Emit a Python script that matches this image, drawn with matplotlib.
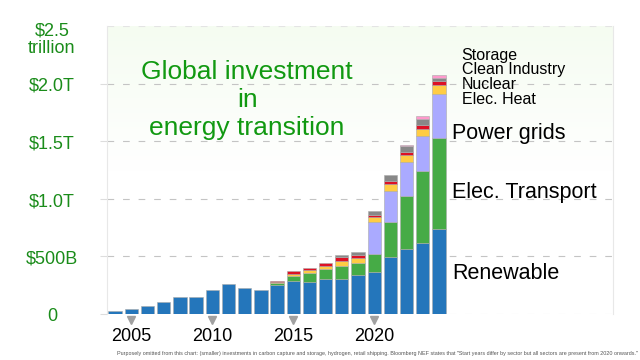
import matplotlib.pyplot as plt
import numpy as np
from matplotlib.colors import LinearSegmentedColormap

plt.rcParams['font.family'] = ['Liberation Sans', 'DejaVu Sans']

years = list(range(2004, 2025))

# billions of USD
renewable = [23, 46, 72, 101, 147, 145, 205, 260, 228, 205, 255, 286, 277, 308, 306, 338, 362, 499, 563, 615, 739]
transport = [0, 0, 0, 0, 0, 0, 0, 0, 0, 0, 10, 40, 75, 84, 110, 109, 156, 297, 464, 629, 788]
grids = [0, 0, 0, 0, 0, 0, 0, 0, 0, 0, 0, 0, 0, 0, 0, 0, 278, 276, 289, 303, 387]
heat = [0, 0, 0, 0, 0, 0, 0, 0, 0, 0, 12, 20, 26, 29, 43, 41, 42, 55, 61, 58, 78]
nuclear = [0, 0, 0, 0, 0, 0, 0, 0, 0, 0, 6, 25, 23, 23, 34, 26, 25, 27, 31, 32, 31]
industry = [0, 0, 0, 0, 0, 0, 0, 0, 0, 0, 0, 0, 0, 0, 18, 26, 35, 50, 47, 54, 29]
storage = [0, 0, 0, 0, 0, 0, 0, 0, 0, 0, 0, 0, 0, 0, 0, 0, 0, 0, 14, 32, 23]

series = [
    (renewable, '#2476bb'),
    (transport, '#46ab46'),
    (grids, '#aaaaff'),
    (heat, '#ffcc44'),
    (nuclear, '#dd1125'),
    (industry, '#888888'),
    (storage, '#ff99cc'),
]

yticks = [0, 500, 1000, 1500, 2000]
ytick_labels = ['0', '$500B', '$1.0T', '$1.5T', '$2.0T']
xticks = [2005, 2010, 2015, 2020]

fig = plt.figure(figsize=(6.4, 3.6), dpi=100)
ax = fig.add_axes([107/640, 46/360, 506/640, 288/360])
ax.set_xlim(2003.5, 2034.74)
ax.set_ylim(0, 2500)

# faint green-to-white background gradient
cmap = LinearSegmentedColormap.from_list('bg', ['#ffffff', '#ffffff', '#f5fcf1'])
grad = np.linspace(0, 1, 256).reshape(-1, 1)
ax.imshow(grad, cmap=cmap, aspect='auto', origin='lower',
          extent=(2003.5, 2034.74, 0, 2500), zorder=0)

for y in [0, 500, 1000, 1500, 2000, 2500]:
    ax.axhline(y, color='#c4c4c4' if 0 < y < 2500 else '#e4e4e4', lw=0.8,
               ls=(0, (6, 8)), zorder=1)

bottom = np.zeros(len(years))
for vals, col in series:
    v = np.array(vals, dtype=float)
    mask = v > 0
    ax.bar(np.array(years)[mask], v[mask], bottom=bottom[mask], width=0.82,
           color=col, edgecolor='#aaaaaa', linewidth=0.4, zorder=2)
    bottom += v

ax.spines['top'].set_visible(False)
ax.spines['bottom'].set_visible(False)
for s in ['left', 'right']:
    ax.spines[s].set_color('#e8e8e8')
    ax.spines[s].set_linewidth(0.8)

ax.set_yticks(yticks)
ax.set_yticklabels([])
ax.tick_params(axis='y', length=5, color='#dddddd')
for y, lab in zip(yticks, ytick_labels):
    ax.text(-0.109, y - 25, lab, transform=ax.get_yaxis_transform(), ha='center',
            va='center', color='#1a8c1a', fontsize=13, clip_on=False)
ax.text(-0.109, 2380, '$2.5\ntrillion', transform=ax.get_yaxis_transform(),
        ha='center', va='center', color='#1a8c1a', fontsize=13, linespacing=1.05,
        clip_on=False)

ax.set_xticks(xticks)
ax.set_xticklabels([str(x) for x in xticks], fontsize=13)
ax.tick_params(axis='x', length=0, pad=10)
ax.plot(xticks, [-50] * len(xticks), marker='v', ls='none', color='#a0a0a0',
        markersize=6, clip_on=False, zorder=3)

ax.text(2012.15, 1860, 'Global investment\nin\nenergy transition', ha='center',
        va='center', fontsize=19, color='#119911', linespacing=1.2)

for label, x, y, fs in [('Storage', 2025.4, 2245, 11.5), ('Clean Industry', 2025.4, 2120, 11.5),
                        ('Nuclear', 2025.4, 1990, 11.5), ('Elec. Heat', 2025.4, 1865, 11.5),
                        ('Power grids', 2024.8, 1565, 15.5), ('Elec. Transport', 2024.8, 1055, 15.5),
                        ('Renewable', 2024.8, 350, 15.5)]:
    ax.text(x, y, label, ha='left', va='center', fontsize=fs, color='black')

fig.text(0.589, 0.018, 'Purposely omitted from this chart: (smaller) investments in carbon capture and storage, '
         'hydrogen, retail shipping. Bloomberg NEF states that "Start years differ by sector but all sectors '
         'are present from 2020 onwards."', ha='center', va='center', fontsize=3.9, color='#555555')

fig.savefig('out.png', dpi=100)
